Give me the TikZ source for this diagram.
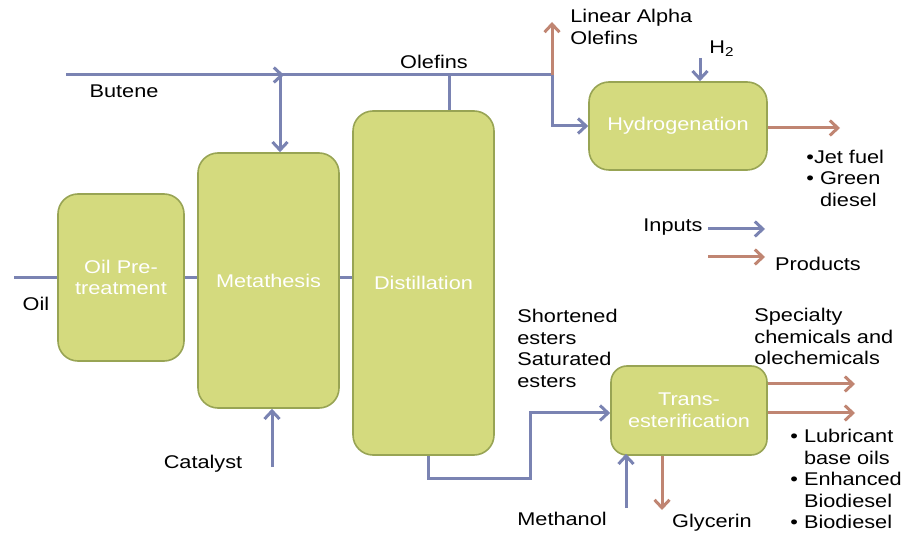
\documentclass[tikz,border=0pt]{standalone}
\usepackage{fontspec}
\setmainfont{Liberation Sans}[FakeStretch=1.18]
\usepackage{tikz}
\usetikzlibrary{arrows.meta, positioning}

\definecolor{inputline}{RGB}{122,131,178}
\definecolor{productline}{RGB}{192,133,114}
\definecolor{stagefill}{RGB}{212,218,126}
\definecolor{stageborder}{RGB}{152,164,84}

\begin{document}
\begin{tikzpicture}[x=0.5pt, y=-0.5pt, >={Straight Barb[length=4pt,width=7.5pt]}]
\tikzstyle{lbl}=[font=\fontsize{9.2}{10.75}\selectfont, inner sep=0pt]
\tikzstyle{stage}=[lbl, rounded corners=10pt, draw=stageborder, line width=0.8pt, fill=stagefill, text=white, align=center]
\tikzstyle{inflow}=[draw=inputline, line width=1.5pt]
\tikzstyle{outflow}=[draw=productline, line width=1.5pt]

\useasboundingbox (0,0) rectangle (914,533);

% Draw the process stages
\node[stage, minimum width=63pt, minimum height=83.5pt] (pretreat) at (121,277.5) {Oil Pre-\\treatment};
\node[stage, minimum width=70.5pt, minimum height=127.5pt] (meta) at (268.5,280.5) {Metathesis};
\node[stage, minimum width=70.5pt, minimum height=172pt] (dist) at (423.5,283) {Distillation};
\node[stage, minimum width=89pt, minimum height=44pt] (hydro) at (678,126) {Hydrogenation};
\node[stage, rounded corners=8pt, minimum width=78pt, minimum height=44.5pt] (trans) at (689,410.5) {Trans-\\esterification};

% Free ends of the streams
\coordinate (oil-in) at (14,278);
\coordinate (butene-in) at (66,75);
\coordinate (mix) at (280,75);
\coordinate (olefins) at (449,75);
\coordinate (split) at (552,75);
\coordinate (lao-out) at (552,22);
\coordinate (h2-in) at (700,58);
\coordinate (jet-out) at (840,128);
\coordinate (cat-in) at (272,467);
\coordinate (dist-low) at (428,478);
\coordinate (esters) at (530,413);
\coordinate (meoh-in) at (626,508);
\coordinate (glyc) at (662,0);
\coordinate (glyc-out) at (662,510);
\coordinate (spec-out) at (855,384);
\coordinate (lub-out) at (855,413);
\coordinate (in-a) at (708,229);
\coordinate (in-b) at (765,229);
\coordinate (prod-a) at (708,257);
\coordinate (prod-b) at (765,257);

% Connect the main line
\draw[inflow] (oil-in) -- (pretreat.west |- oil-in);
\draw[inflow] (pretreat.east |- oil-in) -- (meta.west |- oil-in);
\draw[inflow] (meta.east |- oil-in) -- (dist.west |- oil-in);

% Butene and olefins header
\draw[inflow,->] (butene-in) -- ([xshift=2pt]mix);
\draw[inflow] (mix) -- (split);
\draw[inflow,->] (mix) -- (mix |- meta.north);
\draw[inflow] (dist.north -| olefins) -- (olefins);
\draw[outflow,->] (split) -- (lao-out);
\draw[inflow,->] (split) |- (hydro.west);
\draw[inflow,->] (h2-in) -- (h2-in |- hydro.north);
\draw[outflow,->] (hydro.east |- jet-out) -- (jet-out);

% Catalyst and esters
\draw[inflow,->] (cat-in) -- (cat-in |- meta.south);
\draw[inflow,->] (dist.south -| dist-low) -- (dist-low) -| (esters) -- (esters -| trans.west);
\draw[inflow,->] (meoh-in) -- ([yshift=1pt]meoh-in |- trans.south);
\draw[outflow,->] (glyc |- trans.south) -- (glyc-out);
\draw[outflow,->] (trans.east |- spec-out) -- (spec-out);
\draw[outflow,->] (trans.east |- lub-out) -- (lub-out);

% Legend
\draw[inflow,->] (in-a) -- (in-b);
\draw[outflow,->] (prod-a) -- (prod-b);

% Annotate the streams
\node[lbl] (oil-lbl) at (36,304) {Oil};
\node[lbl] (butene-lbl) at (124,91) {Butene};
\node[lbl] (olefins-lbl) at (434,62) {Olefins};
\node[lbl, anchor=west, align=left] (lao-lbl) at (570,27) {Linear Alpha\\Olefins};
\node[lbl] (h2-lbl) at (722,49) {H\textsubscript{2}};
\node[lbl, anchor=west, align=left] (jet-lbl) at (806,178) {\textbullet Jet fuel\\\textbullet\ Green\\\hphantom{\textbullet\ }diesel};
\node[lbl] (inputs-lbl) at (673,227) {Inputs};
\node[lbl] (products-lbl) at (818,264) {Products};
\node[lbl] (cat-lbl) at (203,464) {Catalyst};
\node[lbl, anchor=west, align=left] (esters-lbl) at (517,348.5) {Shortened\\esters\\Saturated\\esters};
\node[lbl, anchor=west, align=left] (spec-lbl) at (754,336.5) {Specialty\\chemicals and\\olechemicals};
\node[lbl, anchor=west, align=left] (lub-lbl) at (790,479) {\textbullet\ Lubricant\\\hphantom{\textbullet\ }base oils\\\textbullet\ Enhanced\\\hphantom{\textbullet\ }Biodiesel\\\textbullet\ Biodiesel};
\node[lbl] (meoh-lbl) at (562,519) {Methanol};
\node[lbl] (glyc-lbl) at (712,523) {Glycerin};

\end{tikzpicture}
\end{document}
